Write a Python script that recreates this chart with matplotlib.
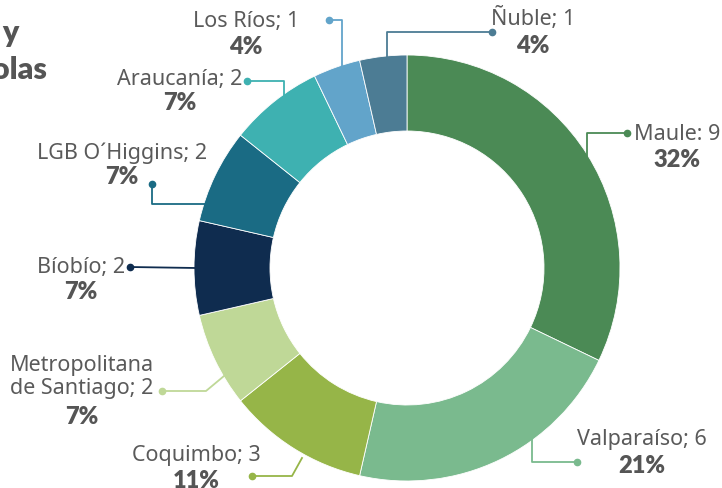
import matplotlib.pyplot as plt

regiones = ['Maule', 'Valparaíso', 'Coquimbo', 'Metropolitana\nde Santiago', 'Bíobío',
            'LGB O´Higgins', 'Araucanía', 'Los Ríos', 'Ñuble']
valores = [9, 6, 3, 2, 2, 2, 2, 1, 1]
colores = ['#4b8a55', '#7aba8e', '#96b548', '#bfd897', '#0f2c4f',
           '#1a6b84', '#3eb1b1', '#62a4ca', '#4c7c94']

total = sum(valores)

plt.rcParams['font.family'] = ['Noto Sans', 'DejaVu Sans']
negrita = ['Lato', 'DejaVu Sans']

fig = plt.figure(figsize=(7.22, 4.88), dpi=100)
ax = fig.add_axes([0, 0, 1, 1])

# donut (pixel coordinates, y downwards)
ax.pie(valores, colors=colores, startangle=-90, counterclock=True,
       center=(407, 268), radius=213,
       wedgeprops=dict(width=76, edgecolor='white', linewidth=0.6))
ax.set_xlim(0, 722)
ax.set_ylim(488, 0)
ax.set_aspect('auto')
ax.axis('off')

# leader lines: path from wedge to the dot (layout)
guias = [
    [(587, 175), (587, 133), (627, 133)],
    [(532, 438), (532, 462), (577, 462)],
    [(302, 458), (292, 476), (252, 476)],
    [(224, 376), (206, 391), (162, 391)],
    [(196, 268), (130, 267)],
    [(237, 204), (152, 204), (152, 184)],
    [(284, 96), (284, 81), (247, 81)],
    [(342, 66), (342, 20), (329, 20)],
    [(387, 58), (387, 32), (492, 32)],
]
# label centre x, label y, percent y
textos = [
    (677, 134, 160),
    (642, 440, 466),
    (196, 456, 481),
    (82, 377, 417),
    (81, 268, 292),
    (122, 153, 177),
    (180, 80, 103),
    (246, 22, 47),
    (533, 18, 46),
]

for reg, v, c, g, t in zip(regiones, valores, colores, guias, textos):
    xs = [p[0] for p in g]
    ys = [p[1] for p in g]
    ax.plot(xs, ys, color=c, lw=1.3, zorder=3)
    ax.plot(xs[-1], ys[-1], 'o', color=c, ms=4.5, zorder=4)
    sep = ': ' if reg == 'Maule' else '; '
    ax.text(t[0], t[1], f'{reg}{sep}{v}', ha='center', va='center',
            fontsize=15.5, color='#5a5a5a', linespacing=1.15)
    ax.text(t[0], t[2], f'{round(v / total * 100)}%', ha='center', va='center',
            fontsize=17, fontweight='heavy', family=negrita, color='#555555')

# title (cut at the left border, as in the original)
ax.text(19, 33, 'Establecimientos técnico-profesionales y', ha='right', va='center',
        fontsize=22, fontweight='heavy', family=negrita, color='#555555')
ax.text(47, 70, 'escuelas agrícolas', ha='right', va='center',
        fontsize=22, fontweight='heavy', family=negrita, color='#555555')

fig.savefig('out.png', dpi=100)
